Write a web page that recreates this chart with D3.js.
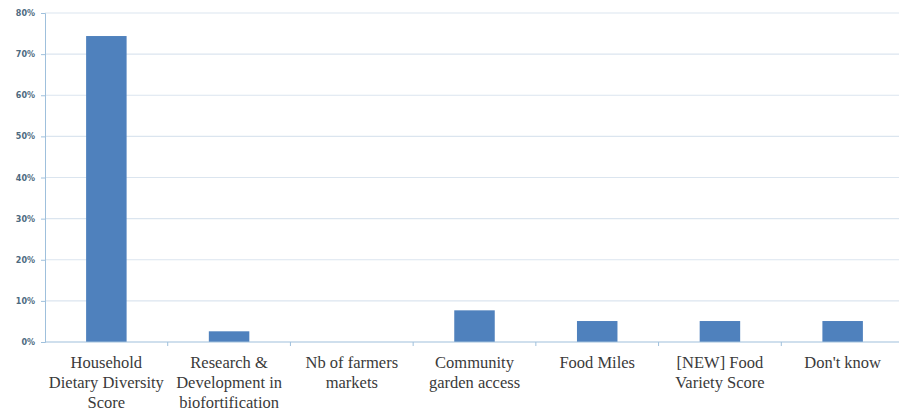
<!DOCTYPE html>
<html><head><meta charset="utf-8">
<script src="https://cdn.jsdelivr.net/npm/d3@7"></script>
<style>body{margin:0;background:#fff}svg{display:block}
.cat{font-family:"Liberation Serif","DejaVu Serif","Times New Roman",serif;font-size:16.5px}
</style>
</head><body>
<svg id="c" width="899" height="415"></svg>
<script>
const categories = [
  ["Household","Dietary Diversity","Score"],
  ["Research &","Development in","biofortification"],
  ["Nb of farmers","markets"],
  ["Community","garden access"],
  ["Food Miles"],
  ["[NEW] Food","Variety Score"],
  ["Don't know"]
];
const values = [0.744, 0.026, 0, 0.077, 0.051, 0.051, 0.051];
const yTicks = [0, 0.1, 0.2, 0.3, 0.4, 0.5, 0.6, 0.7, 0.8];

(function(){
const svg = d3.select("#c");
const mLeft = 45, mRight = 904, mTop = 13, mBottom = 342;
const x = d3.scaleBand().domain(d3.range(categories.length)).range([mLeft, mRight]).paddingInner(0.67).paddingOuter(0.335);
const xb = d3.scaleLinear().domain([0, categories.length]).range([mLeft, mRight]);
const y = d3.scaleLinear().domain([0, 0.8]).range([mBottom, mTop]);

// gridlines
svg.append("g").selectAll("line").data(yTicks.slice(1)).join("line")
  .attr("x1", mLeft).attr("x2", 899).attr("y1", d => y(d)).attr("y2", d => y(d))
  .attr("stroke", "#dbe5ef").attr("stroke-width", 1.2);

// y axis
const ya = svg.append("g").attr("transform", `translate(${mLeft},0)`)
  .call(d3.axisLeft(y).tickValues(yTicks).tickFormat(d3.format(".0%")).tickSize(4).tickPadding(6));
ya.select(".domain").attr("stroke", "#9fc0dc");
ya.selectAll(".tick line").attr("stroke", "#9fc0dc");
ya.selectAll("text").attr("fill", "#4d6a80").attr("font-family", null)
  .style("font-family", "'DejaVu Sans', sans-serif")
  .style("font-size", "8px").style("font-weight", "bold");

// bars
svg.append("g").selectAll("rect").data(values).join("rect")
  .attr("x", (d, i) => x(i)).attr("width", x.bandwidth())
  .attr("y", d => y(d)).attr("height", d => y(0) - y(d))
  .attr("fill", "#4f81bd");

// x axis
const xa = svg.append("g");
xa.append("line").attr("x1", mLeft).attr("x2", 899).attr("y1", mBottom).attr("y2", mBottom)
  .attr("stroke", "#9fc0dc").attr("stroke-width", 1.2);
xa.selectAll(".tk").data(d3.range(1, categories.length + 1)).join("line").attr("class", "tk")
  .attr("x1", d => xb(d)).attr("x2", d => xb(d)).attr("y1", mBottom).attr("y2", mBottom + 4)
  .attr("stroke", "#9fc0dc");

const lab = xa.selectAll("text.cat").data(categories).join("text")
  .attr("class", "cat")
  .attr("text-anchor", "middle")
  .attr("fill", "#3a3a3a");
lab.each(function(d, i) {
  const t = d3.select(this);
  d.forEach((s, j) => t.append("tspan").attr("x", x(i) + x.bandwidth() / 2).attr("y", 368 + j * 20).text(s));
});
})();
</script>
</body></html>
